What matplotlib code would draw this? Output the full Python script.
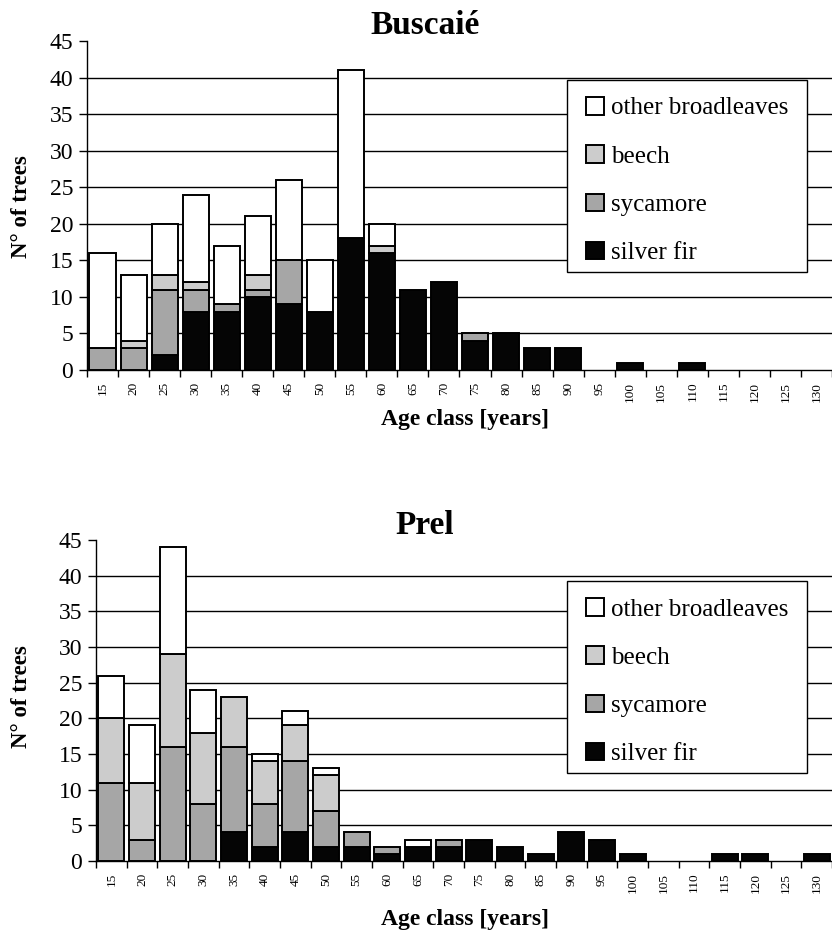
import matplotlib
matplotlib.use("Agg")
import matplotlib.pyplot as plt
import matplotlib.patches as mpatches
import numpy as np

plt.rcParams['font.family'] = ['Liberation Serif', 'DejaVu Serif']

# age classes (years)
ages = [15, 20, 25, 30, 35, 40, 45, 50, 55, 60, 65, 70, 75, 80, 85, 90,
        95, 100, 105, 110, 115, 120, 125, 130]

# Buscaie stand
bus_fir = [0, 0, 2, 8, 8, 10, 9, 8, 18, 16, 11, 12, 4, 5, 3, 3, 0, 1, 0, 1, 0, 0, 0, 0]
bus_syc = [3, 3, 9, 3, 1, 1, 6, 0, 0, 0, 0, 0, 1, 0, 0, 0, 0, 0, 0, 0, 0, 0, 0, 0]
bus_bee = [0, 1, 2, 1, 0, 2, 0, 0, 0, 1, 0, 0, 0, 0, 0, 0, 0, 0, 0, 0, 0, 0, 0, 0]
bus_oth = [13, 9, 7, 12, 8, 8, 11, 7, 23, 3, 0, 0, 0, 0, 0, 0, 0, 0, 0, 0, 0, 0, 0, 0]

# Prel stand
pre_fir = [0, 0, 0, 0, 4, 2, 4, 2, 2, 1, 2, 2, 3, 2, 1, 4, 3, 1, 0, 0, 1, 1, 0, 1]
pre_syc = [11, 3, 16, 8, 12, 6, 10, 5, 2, 1, 0, 1, 0, 0, 0, 0, 0, 0, 0, 0, 0, 0, 0, 0]
pre_bee = [9, 8, 13, 10, 7, 6, 5, 5, 0, 0, 0, 0, 0, 0, 0, 0, 0, 0, 0, 0, 0, 0, 0, 0]
pre_oth = [6, 8, 15, 6, 0, 1, 2, 1, 0, 0, 1, 0, 0, 0, 0, 0, 0, 0, 0, 0, 0, 0, 0, 0]

species = ['silver fir', 'sycamore', 'beech', 'other broadleaves']
colors = ['#050505', '#a6a6a6', '#cccccc', 'white']

W, H = 832, 936
fig = plt.figure(figsize=(W / 100, H / 100), dpi=100)


def draw(left, bottom_px, top_px, title, title_y, xlabel_y, ylabel_y, leg_top, series):
    ax = fig.add_axes([left / W, 1 - bottom_px / H, (W - left) / W, (bottom_px - top_px) / H])
    x = np.arange(len(ages))
    bottom = np.zeros(len(ages))
    for vals, c, lab in zip(series, colors, species):
        v = np.array(vals, dtype=float)
        keep = v > 0
        ax.bar(x[keep], v[keep], bottom=bottom[keep], width=0.84, color=c,
               edgecolor='black', linewidth=1.4, label=lab, zorder=3)
        bottom += v
    ax.set_xlim(-0.5, len(ages) - 0.5)
    ax.set_ylim(0, 45)
    ax.set_yticks(range(0, 50, 5))
    ax.tick_params(axis='y', labelsize=17, length=6, width=1, pad=4)
    ax.set_xticks(x)
    ax.set_xticklabels([str(a) for a in ages], rotation=90, fontsize=9.5)
    ax.tick_params(axis='x', length=0, pad=8.5)
    ax.set_xticks(np.arange(len(ages) + 1) - 0.5, minor=True)
    ax.tick_params(axis='x', which='minor', length=5, width=1)
    for g in range(5, 45, 5):
        ax.axhline(g, color='black', linewidth=1, zorder=1)
    for s in ['top', 'right']:
        ax.spines[s].set_visible(False)
    ax.spines['left'].set_linewidth(1)
    ax.spines['bottom'].set_linewidth(1)

    # legend box drawn by hand so its size matches the original
    box = mpatches.Rectangle((567 / W, 1 - (leg_top + 192) / H), 240 / W, 192 / H,
                             transform=fig.transFigure, facecolor='white',
                             edgecolor='black', linewidth=1, zorder=4)
    ax.add_patch(box)
    h, l = ax.get_legend_handles_labels()
    leg = ax.legend(h[::-1], l[::-1], loc='upper left',
                    bbox_to_anchor=(586 / W, 1 - (leg_top + 17) / H), bbox_transform=fig.transFigure,
                    fontsize=18, frameon=False,
                    handlelength=0.7, handleheight=0.7, handletextpad=0.3,
                    labelspacing=1.03, borderpad=0, borderaxespad=0)
    leg.set_zorder(5)
    fig.text(425 / W, 1 - title_y / H, title, fontsize=24, fontweight='bold',
             ha='center', va='center')
    fig.text(465 / W, 1 - xlabel_y / H, 'Age class [years]', fontsize=17,
             fontweight='bold', ha='center', va='center')
    fig.text(22 / W, 1 - ylabel_y / H, 'N° of trees', fontsize=16.5,
             fontweight='bold', ha='center', va='center', rotation=90)
    return ax


ax1 = draw(87, 370, 41, 'Buscaié', 25, 419, 207, 80,
           [bus_fir, bus_syc, bus_bee, bus_oth])

ax2 = draw(96, 861, 540, 'Prel', 525, 920, 697, 581,
           [pre_fir, pre_syc, pre_bee, pre_oth])

fig.savefig('out.png', dpi=100)
